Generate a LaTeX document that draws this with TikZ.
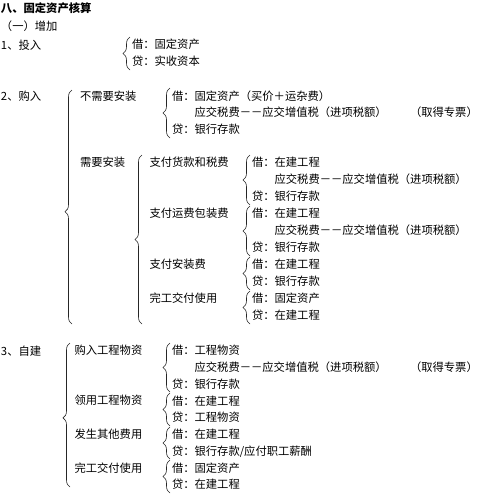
\documentclass[tikz,border=0pt]{standalone}
\usepackage{fontspec}
\newfontfamily\cjk{Noto Sans CJK SC}
\usetikzlibrary{decorations.pathreplacing}
\tikzset{
  txt/.style={anchor=west, inner sep=0pt, outer sep=0pt, text height=0.88em, text depth=0.12em,
    font=\cjk\fontsize{11.3}{13}\selectfont, text=black},
  ttl/.style={txt, font=\cjk\bfseries\fontsize{11.3}{13}\selectfont},
  brc/.style={draw=black!85, line width=0.6pt, decorate, decoration={brace, amplitude=7pt, aspect=0.5}},
  brcl/.style={draw=black!85, line width=0.6pt, decorate, decoration={brace, amplitude=7pt, aspect=0.48}}
}
\newcommand{\ind}{\hphantom{借：}}
\begin{document}
\begin{tikzpicture}[x=1pt,y=-1pt]
\useasboundingbox (0,0) rectangle (500,499);
% heading
\node[ttl] (title) at (1,9) {八、固定资产核算};
\node[txt] (inc) at (1,27) {（一）增加};
% section 1
\node[txt] (s1) at (1,46) {1、投入};
\draw[brc] (130,70) -- (130,37);
\node[txt] (s1a) at (132,45) {借：固定资产};
\node[txt] (s1b) at (132,62) {贷：实收资本};
% section 2
\node[txt] (s2) at (1,97) {2、购入};
\draw[brcl] (72,324) -- (72,90);
\node[txt] (s2a) at (80,97) {不需要安装};
\draw[brc] (170,138) -- (170,88);
\node[txt] (s2a1) at (172,97) {借：固定资产（买价＋运杂费）};
\node[txt] (s2a2) at (172,113) {\ind 应交税费－－应交增值税（进项税额）};
\node[txt] (s2a2n) at (410,113) {（取得专票）};
\node[txt] (s2a3) at (172,130) {贷：银行存款};
\node[txt] (s2b) at (80,163) {需要安装};
\draw[brc] (142,324) -- (142,155);
% 2b-1
\node[txt] (p1) at (149.5,163) {支付货款和税费};
\draw[brc] (250,205) -- (250,155);
\node[txt] (p1a) at (252,163) {借：在建工程};
\node[txt] (p1b) at (252,180) {\ind 应交税费－－应交增值税（进项税额）};
\node[txt] (p1c) at (252,197) {贷：银行存款};
% 2b-2
\node[txt] (p2) at (149.5,214) {支付运费包装费};
\draw[brc] (250,256) -- (250,206);
\node[txt] (p2a) at (252,214) {借：在建工程};
\node[txt] (p2b) at (252,231) {\ind 应交税费－－应交增值税（进项税额）};
\node[txt] (p2c) at (252,248) {贷：银行存款};
% 2b-3
\node[txt] (p3) at (149.5,265) {支付安装费};
\draw[brc] (250,290) -- (250,257);
\node[txt] (p3a) at (252,265) {借：在建工程};
\node[txt] (p3b) at (252,282) {贷：银行存款};
% 2b-4
\node[txt] (p4) at (149.5,299) {完工交付使用};
\draw[brc] (250,324) -- (250,291);
\node[txt] (p4a) at (252,299) {借：固定资产};
\node[txt] (p4b) at (252,316) {贷：在建工程};
% section 3
\node[txt] (s3) at (1,352) {3、自建};
\draw[brcl] (70,487) -- (70,343);
\node[txt] (q1) at (74.5,351) {购入工程物资};
\draw[brc] (170,392) -- (170,343);
\node[txt] (q1a) at (172,351) {借：工程物资};
\node[txt] (q1b) at (172,367.75) {\ind 应交税费－－应交增值税（进项税额）};
\node[txt] (q1bn) at (410,367.75) {（取得专票）};
\node[txt] (q1c) at (172,384.5) {贷：银行存款};
\node[txt] (q2) at (74.5,401) {领用工程物资};
\draw[brc] (170,426) -- (170,393);
\node[txt] (q2a) at (172,401.25) {借：在建工程};
\node[txt] (q2b) at (172,418) {贷：工程物资};
\node[txt] (q3) at (74.5,435) {发生其他费用};
\draw[brc] (170,459) -- (170,427);
\node[txt] (q3a) at (172,434.75) {借：在建工程};
\node[txt] (q3b) at (172,451.5) {贷：银行存款/应付职工薪酬};
\node[txt] (q4) at (74.5,468.25) {完工交付使用};
\draw[brc] (170,493) -- (170,460);
\node[txt] (q4a) at (172,468.25) {借：固定资产};
\node[txt] (q4b) at (172,485) {贷：在建工程};
\end{tikzpicture}
\end{document}
